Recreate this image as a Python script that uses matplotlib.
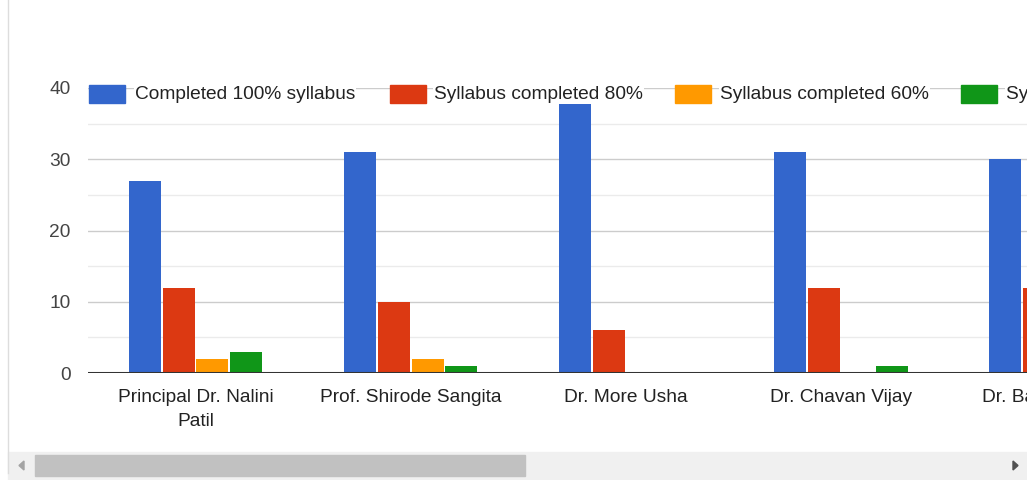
import matplotlib.pyplot as plt
from matplotlib.patches import Rectangle, Polygon
from matplotlib.lines import Line2D
import numpy as np

plt.rcParams['font.family'] = ['Liberation Sans', 'DejaVu Sans']

teachers = ['Principal Dr. Nalini\nPatil', 'Prof. Shirode Sangita', 'Dr. More Usha',
            'Dr. Chavan Vijay', 'Dr. Bagul Sunitha']
series = ['Completed 100% syllabus', 'Syllabus completed 80%',
          'Syllabus completed 60%', 'Syllabus completed 40%']
completed_100 = [27, 31, 38, 31, 30]
completed_80 = [12, 10, 6, 12, 12]
completed_60 = [2, 2, 0, 0, 0]
completed_40 = [3, 1, 0, 1, 0]
colors = ['#3366cc', '#dc3912', '#ff9900', '#109618']

W, H = 1027, 480
FS = 13.8


def fx(px):
    return px / W


def fy(py):
    return 1 - py / H


fig = plt.figure(figsize=(W / 100, H / 100), dpi=100)

# plot area in pixels: x 88 -> 1027, y 88 (40) -> 373 (0)
ax = fig.add_axes([fx(88), fy(373), fx(1027 - 88), (373 - 88) / H])
x = np.arange(len(teachers))
step = 0.157
width = 0.149
for i, vals in enumerate([completed_100, completed_80, completed_60, completed_40]):
    ax.bar(x + (i - 1.5) * step, vals, width=width, color=colors[i], zorder=3)

ax.set_xlim(-0.5, 3.865)
ax.set_ylim(0, 40)
ax.set_yticks([0, 10, 20, 30, 40])
ax.set_yticks([5, 15, 25, 35], minor=True)
ax.grid(axis='y', which='major', color='#cccccc', linewidth=1, zorder=0)
ax.grid(axis='y', which='minor', color='#ebebeb', linewidth=1, zorder=0)
ax.tick_params(axis='y', which='both', length=0, pad=12.5, labelsize=FS, labelcolor='#444444')
ax.set_xticks([])
for s in ax.spines.values():
    s.set_visible(False)
ax.axhline(0, color='#333333', linewidth=2.2, zorder=4)

for i, name in enumerate(teachers):
    ax.annotate(name, xy=(i, 0), xycoords=('data', 'axes fraction'),
                xytext=(0, -11.5), textcoords='offset points',
                ha='center', va='top', fontsize=FS, color='#222222',
                linespacing=1.55, annotation_clip=False)

# legend drawn along the top
legend_items = [(89, 135), (390, 434), (675, 720), (961, 1006)]
for (px, tx), label, c in zip(legend_items, series, colors):
    fig.patches.append(Rectangle((fx(px), fy(103)), fx(36), 18 / H, color=c,
                                 transform=fig.transFigure, figure=fig))
    fig.text(fx(tx), fy(94.5), label, fontsize=FS, color='#222222', va='center',
             ha='left', bbox=dict(facecolor='white', edgecolor='none', pad=0.5))

# left border
fig.add_artist(Line2D([fx(7.5), fx(7.5)], [fy(0), fy(473)], color='#dddddd',
                      linewidth=1, transform=fig.transFigure))

# scrollbar
fig.patches.append(Rectangle((fx(8), 0), fx(W - 8), 28 / H, color='#f0f0f0',
                             transform=fig.transFigure, figure=fig))
fig.patches.append(Rectangle((fx(35), fy(476)), fx(490), 21 / H, color='#c1c1c1',
                             transform=fig.transFigure, figure=fig))
fig.patches.append(Polygon([[fx(24), fy(461)], [fx(24), fy(470)], [fx(19), fy(465.5)]],
                           closed=True, color='#a3a3a3', transform=fig.transFigure, figure=fig))
fig.patches.append(Polygon([[fx(1013), fy(461)], [fx(1013), fy(470)], [fx(1018), fy(465.5)]],
                           closed=True, color='#505050', transform=fig.transFigure, figure=fig))

fig.savefig('out.png', dpi=100)
